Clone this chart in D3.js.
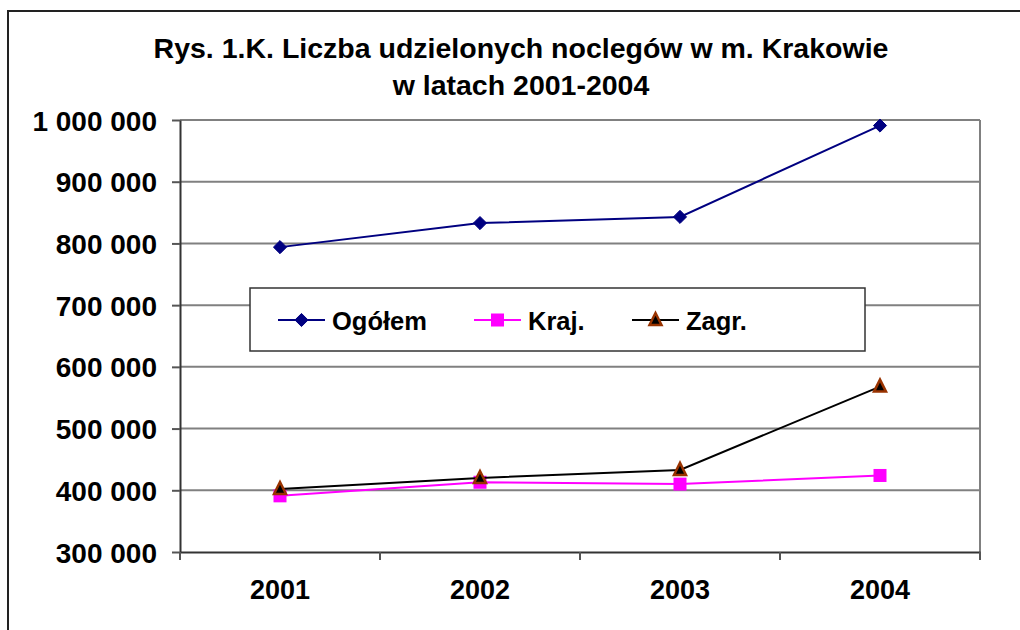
<!DOCTYPE html>
<html>
<head>
<meta charset="utf-8">
<script src="https://cdn.jsdelivr.net/npm/d3@7"></script>
<style>
  body { margin: 0; background: #fff; }
  text { font-family: "Liberation Sans", Arial, sans-serif; font-weight: bold; fill: #000; }
</style>
</head>
<body>
<div id="chart"></div>
<script>
// data
var years = ["2001", "2002", "2003", "2004"];
var ogolem = [794000, 833000, 843000, 991000];
var kraj = [391000, 413000, 410000, 424000];
var zagr = [402000, 420000, 433000, 568000];
var yTicks = [300000, 400000, 500000, 600000, 700000, 800000, 900000, 1000000];

var width = 1020, height = 630;
var plot = {left: 180, right: 980, top: 120, bottom: 552};

var svg = d3.select("#chart").append("svg")
            .attr("width", width)
            .attr("height", height);

// outer frame
svg.append("rect")
   .attr("x", 8).attr("y", 11)
   .attr("width", 1030).attr("height", 640)
   .attr("fill", "#fff")
   .attr("stroke", "#222").attr("stroke-width", 2);

// title
var title = svg.append("text")
               .attr("text-anchor", "middle")
               .attr("font-size", 28.5);
title.append("tspan").attr("x", 521).attr("y", 58)
     .text("Rys. 1.K. Liczba udzielonych noclegów w m. Krakowie");
title.append("tspan").attr("x", 521).attr("y", 95)
     .text("w latach 2001-2004");

// scales
var xScale = d3.scaleBand().domain(years).range([plot.left, plot.right]).padding(0);
var yScale = d3.scaleLinear().domain([300000, 1000000]).range([plot.bottom, plot.top]);
var fmt = function(d) { return d3.format(",")(d).replace(/,/g, " "); };

// gridlines
svg.append("g").selectAll("line")
   .data(yTicks.filter(function(d) { return d > 300000; }))
   .enter().append("line")
   .attr("x1", plot.left).attr("x2", plot.right)
   .attr("y1", function(d) { return yScale(d); })
   .attr("y2", function(d) { return yScale(d); })
   .attr("stroke", "#808080").attr("stroke-width", 2);

// right border of plot
svg.append("line")
   .attr("x1", plot.right).attr("x2", plot.right)
   .attr("y1", plot.top).attr("y2", plot.bottom)
   .attr("stroke", "#808080").attr("stroke-width", 2);

// y axis
var yAxis = svg.append("g")
               .attr("transform", "translate(" + plot.left + ",0)")
               .call(d3.axisLeft(yScale).tickValues(yTicks).tickFormat(fmt)
                       .tickSize(8).tickSizeOuter(0).tickPadding(15));
yAxis.select(".domain").attr("stroke", "#333").attr("stroke-width", 2);
yAxis.selectAll(".tick line").attr("stroke", "#555").attr("stroke-width", 2);
yAxis.selectAll(".tick text").attr("font-size", 28).attr("dy", "0.36em")
     .style("font-family", "'Liberation Sans', Arial, sans-serif").style("font-weight", "bold");

// x axis
var xAxis = svg.append("g")
               .attr("transform", "translate(0," + plot.bottom + ")")
               .call(d3.axisBottom(xScale).tickSize(0).tickSizeOuter(0).tickPadding(28));
xAxis.select(".domain").attr("stroke", "#333").attr("stroke-width", 2);
xAxis.selectAll(".tick text").attr("font-size", 27)
     .style("font-family", "'Liberation Sans', Arial, sans-serif").style("font-weight", "bold");
// category separators
svg.append("g").selectAll("line")
   .data(years)
   .enter().append("line")
   .attr("x1", function(d) { return xScale(d) + xScale.bandwidth(); })
   .attr("x2", function(d) { return xScale(d) + xScale.bandwidth(); })
   .attr("y1", plot.bottom).attr("y2", plot.bottom + 8)
   .attr("stroke", "#555").attr("stroke-width", 2);
svg.append("line")
   .attr("x1", plot.left).attr("x2", plot.left)
   .attr("y1", plot.bottom).attr("y2", plot.bottom + 8)
   .attr("stroke", "#555").attr("stroke-width", 2);

var cx = function(i) { return xScale(years[i]) + xScale.bandwidth() / 2; };
var line = d3.line()
             .x(function(d, i) { return cx(i); })
             .y(function(d) { return yScale(d); });

// markers
function diamond(g, x, y) {
  g.append("path")
   .attr("d", d3.symbol().type(d3.symbolDiamond2).size(110)())
   .attr("transform", "translate(" + x + "," + y + ")")
   .attr("fill", "#000080").attr("stroke", "#000080").attr("stroke-width", 1);
}
function square(g, x, y) {
  g.append("rect")
   .attr("x", x - 6.5).attr("y", y - 6.5)
   .attr("width", 13).attr("height", 13)
   .attr("fill", "#ff00ff");
}
function triangle(g, x, y) {
  g.append("path")
   .attr("d", "M" + x + "," + (y - 7) + "L" + (x + 6) + "," + (y + 5) + "L" + (x - 6) + "," + (y + 5) + "Z")
   .attr("fill", "#000").attr("stroke", "#993300").attr("stroke-width", 2.5)
   .attr("stroke-linejoin", "miter");
}

var series = [
  {name: "Ogółem", values: ogolem, color: "#000080", marker: diamond},
  {name: "Kraj.", values: kraj, color: "#ff00ff", marker: square},
  {name: "Zagr.", values: zagr, color: "#000000", marker: triangle}
];

series.forEach(function(s) {
  var g = svg.append("g");
  g.append("path")
   .datum(s.values)
   .attr("d", line)
   .attr("fill", "none")
   .attr("stroke", s.color)
   .attr("stroke-width", 2);
  s.values.forEach(function(v, i) { s.marker(g, cx(i), yScale(v)); });
});

// legend
var legend = svg.append("g");
legend.append("rect")
      .attr("x", 250).attr("y", 288)
      .attr("width", 615).attr("height", 63)
      .attr("fill", "#fff")
      .attr("stroke", "#333").attr("stroke-width", 1.5);
var legendX = [278, 474, 632];
series.forEach(function(s, i) {
  var x0 = legendX[i], y0 = 320;
  legend.append("line")
        .attr("x1", x0).attr("x2", x0 + 47)
        .attr("y1", y0).attr("y2", y0)
        .attr("stroke", s.color).attr("stroke-width", 2);
  s.marker(legend, x0 + 23.5, y0);
  legend.append("text")
        .attr("x", x0 + 54).attr("y", y0 + 10)
        .attr("font-size", 25.5)
        .text(s.name);
});
</script>
</body>
</html>
